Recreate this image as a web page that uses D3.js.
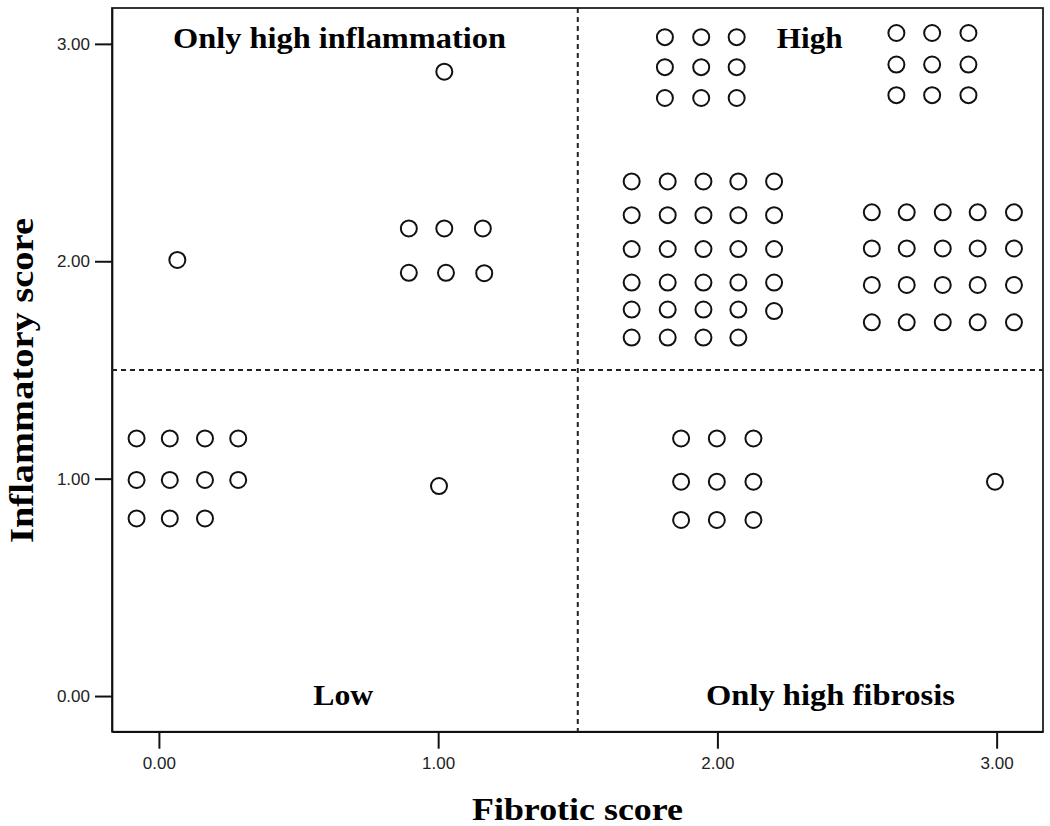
<!DOCTYPE html>
<html>
<head>
<meta charset="utf-8">
<script src="https://cdn.jsdelivr.net/npm/d3@7"></script>
<style>
  html, body { margin: 0; padding: 0; background: #fff; }
  svg { display: block; }
</style>
</head>
<body>
<svg id="chart" width="1050" height="826"></svg>
<script>
// ---- data (displayed positions of each patient marker, SPSS-style stacked) ----
const fibrotic = [
  // Low quadrant
  -0.080, 0.039, 0.165, 0.284,
  -0.080, 0.039, 0.165, 0.284,
  -0.080, 0.039, 0.165,
  1.003,
  // Only high inflammation
  0.066, 1.022,
  0.895, 1.022, 1.160,
  0.895, 1.028, 1.165,
  // High: top-left cluster
  1.812, 1.942, 2.069,
  1.812, 1.942, 2.069,
  1.812, 1.942, 2.069,
  // High: top-right cluster
  2.641, 2.769, 2.899,
  2.641, 2.769, 2.899,
  2.641, 2.769, 2.899,
  // High: big left cluster
  1.693, 1.822, 1.950, 2.075, 2.203,
  1.693, 1.822, 1.950, 2.075, 2.203,
  1.693, 1.822, 1.950, 2.075, 2.203,
  1.693, 1.822, 1.950, 2.075, 2.203,
  1.693, 1.822, 1.950, 2.075, 2.203,
  1.693, 1.822, 1.950, 2.075,
  // High: big right cluster
  2.553, 2.678, 2.807, 2.932, 3.062,
  2.553, 2.678, 2.807, 2.932, 3.062,
  2.553, 2.678, 2.807, 2.932, 3.062,
  2.553, 2.678, 2.807, 2.932, 3.062,
  // Only high fibrosis
  1.870, 1.998, 2.129,
  1.870, 1.998, 2.129,
  1.870, 1.998, 2.129,
  2.994
];
const inflammatory = [
  1.185, 1.185, 1.185, 1.185,
  0.994, 0.994, 0.994, 0.994,
  0.817, 0.817, 0.817,
  0.966,
  2.006, 2.872,
  2.151, 2.151, 2.151,
  1.947, 1.947, 1.945,
  3.031, 3.031, 3.031,
  2.893, 2.893, 2.893,
  2.751, 2.751, 2.751,
  3.050, 3.050, 3.050,
  2.905, 2.905, 2.905,
  2.764, 2.764, 2.764,
  2.367, 2.367, 2.367, 2.367, 2.367,
  2.212, 2.212, 2.212, 2.212, 2.212,
  2.056, 2.056, 2.056, 2.056, 2.056,
  1.902, 1.902, 1.902, 1.902, 1.902,
  1.778, 1.778, 1.778, 1.778, 1.771,
  1.649, 1.649, 1.649, 1.649,
  2.225, 2.225, 2.225, 2.225, 2.225,
  2.059, 2.059, 2.059, 2.059, 2.059,
  1.891, 1.891, 1.891, 1.891, 1.891,
  1.719, 1.719, 1.719, 1.719, 1.719,
  1.185, 1.185, 1.185,
  0.986, 0.986, 0.986,
  0.810, 0.810, 0.810,
  0.986
];
const xTicks = [0, 1, 2, 3];
const yTicks = [0, 1, 2, 3];
const cutoffFibrotic = 1.5;
const cutoffInflammatory = 1.5;
const quadrantLabels = ["Only high inflammation", "High", "Low", "Only high fibrosis"];
const xTitle = "Fibrotic score";
const yTitle = "Inflammatory score";

// ---- layout ----
const svg = d3.select("#chart");
const plotLeft = 112, plotRight = 1043, plotTop = 8, plotBottom = 731.7;

const x = d3.scaleLinear().domain([-0.168, 3.166]).range([plotLeft, plotRight]);
const y = d3.scaleLinear().domain([-0.164, 3.165]).range([plotBottom, plotTop]);

// frame
svg.append("rect")
  .attr("x", plotLeft).attr("y", plotTop)
  .attr("width", plotRight - plotLeft).attr("height", plotBottom - plotTop)
  .attr("fill", "none").attr("stroke", "#111").attr("stroke-width", 1.7);

// axes
const fmt = d3.format(".2f");
const yAxis = svg.append("g")
  .attr("transform", `translate(${plotLeft},0)`)
  .call(d3.axisLeft(y).tickValues(yTicks).tickFormat(fmt).tickSize(17).tickSizeOuter(0).tickPadding(5));
const xAxis = svg.append("g")
  .attr("transform", `translate(0,${plotBottom})`)
  .call(d3.axisBottom(x).tickValues(xTicks).tickFormat(fmt).tickSize(17).tickSizeOuter(0).tickPadding(8));

[xAxis, yAxis].forEach(g => {
  g.select(".domain").attr("stroke", "#111").attr("stroke-width", 1.7);
  g.selectAll(".tick line").attr("stroke", "#111").attr("stroke-width", 2);
  g.selectAll(".tick text")
    .attr("fill", "#222")
    .style("font-family", "'Liberation Sans', Arial, sans-serif")
    .style("font-size", "17px");
});

// dashed cutoff lines
svg.append("line")
  .attr("x1", x(cutoffFibrotic)).attr("x2", x(cutoffFibrotic))
  .attr("y1", plotTop).attr("y2", plotBottom)
  .attr("stroke", "#222").attr("stroke-width", 2).attr("stroke-dasharray", "5,4");
svg.append("line")
  .attr("x1", plotLeft).attr("x2", plotRight)
  .attr("y1", y(cutoffInflammatory)).attr("y2", y(cutoffInflammatory))
  .attr("stroke", "#222").attr("stroke-width", 2).attr("stroke-dasharray", "5,4");

// points
svg.append("g").selectAll("circle")
  .data(fibrotic.map((f, i) => [f, inflammatory[i]]))
  .join("circle")
  .attr("cx", d => x(d[0]))
  .attr("cy", d => y(d[1]))
  .attr("r", 8)
  .attr("fill", "#fff")
  .attr("stroke", "#111")
  .attr("stroke-width", 2);

// quadrant labels
const serif = "'Liberation Serif', 'Times New Roman', serif";
const qPos = [
  { cx: 339.5, by: 48, w: 333 },
  { cx: 809.7, by: 48, w: 66 },
  { cx: 343.3, by: 705, w: 60 },
  { cx: 830.5, by: 705, w: 249 }
];
svg.append("g").selectAll("text")
  .data(quadrantLabels)
  .join("text")
  .attr("x", (d, i) => qPos[i].cx - qPos[i].w / 2)
  .attr("y", (d, i) => qPos[i].by)
  .attr("textLength", (d, i) => qPos[i].w)
  .attr("lengthAdjust", "spacingAndGlyphs")
  .style("font-family", serif)
  .style("font-weight", "bold")
  .style("font-size", "29px")
  .attr("fill", "#000")
  .text(d => d);

// axis titles
svg.append("text")
  .attr("x", 577.5 - 105.5).attr("y", 820)
  .attr("textLength", 211).attr("lengthAdjust", "spacingAndGlyphs")
  .style("font-family", serif).style("font-weight", "bold").style("font-size", "31px")
  .text(xTitle);

svg.append("text")
  .attr("transform", `translate(33,543) rotate(-90)`)
  .attr("x", 0).attr("y", 0)
  .attr("textLength", 325).attr("lengthAdjust", "spacingAndGlyphs")
  .style("font-family", serif).style("font-weight", "bold").style("font-size", "33px")
  .text(yTitle);
</script>
</body>
</html>
